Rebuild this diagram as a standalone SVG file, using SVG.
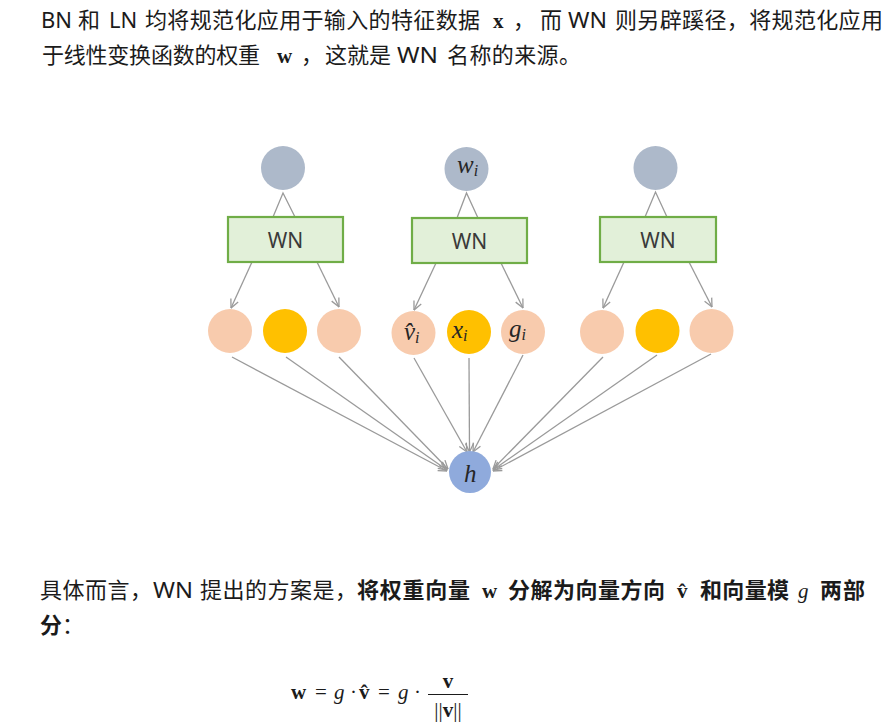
<svg xmlns="http://www.w3.org/2000/svg" width="886" height="726" viewBox="0 0 886 726">
<style>
.t{font-family:"Noto Sans","Noto Sans CJK SC",sans-serif;font-size:22px;fill:#1b1b1b}
.b{font-weight:bold}
.m{font-family:"Liberation Serif","DejaVu Serif",serif;font-size:21px;fill:#1b1b1b}
.mb{font-weight:bold}
.mi{font-style:italic}
.wn{font-family:"Noto Sans","Open Sans",sans-serif;font-size:21px;fill:#3a3a3a;text-anchor:middle}
.lbl{font-family:"Liberation Serif","DejaVu Serif",serif;font-style:italic;fill:#262626;font-size:25px}
.sub{font-size:16px}
.box{fill:#E2F0D9;stroke:#70AD47;stroke-width:2.2}
.top{fill:#ADB9CA}
.pe{fill:#F8CBAD}
.ye{fill:#FFC000}
.hh{fill:#8FAADC}
.c line,.c polyline{stroke:#9a9a9a;stroke-width:1.3;fill:none}
.c line{marker-end:url(#ah)}
</style>
<defs>
<marker id="ah" viewBox="0 0 10 10" refX="9.5" refY="5" markerWidth="10" markerHeight="10" markerUnits="userSpaceOnUse" orient="auto">
<path d="M1,1 L9.5,5 L1,9" fill="none" stroke="#9a9a9a" stroke-width="1.3"/>
</marker>
</defs>
<rect width="886" height="726" fill="#ffffff"/>

<g id="text-top">
<text class="t" y="28"><tspan x="41">BN</tspan><tspan x="78">和</tspan><tspan x="109">LN</tspan></text>
<text class="t" x="145" y="28" textLength="335" lengthAdjust="spacing">均将规范化应用于输入的特征数据</text>
<text class="m mb" x="493" y="28">x</text>
<text class="t" x="513" y="28">，</text>
<text class="t" x="540" y="28">而</text>
<text class="t" x="568" y="28" textLength="39" lengthAdjust="spacingAndGlyphs">WN</text>
<text class="t" x="615" y="28" textLength="268" lengthAdjust="spacing">则另辟蹊径，将规范化应用</text>
<text class="t" x="42" y="63" textLength="218" lengthAdjust="spacing">于线性变换函数的权重</text>
<text class="m mb" x="277" y="63">w</text>
<text class="t" x="301" y="63">，</text>
<text class="t" x="325" y="63" textLength="66" lengthAdjust="spacing">这就是</text>
<text class="t" x="397" y="63" textLength="41" lengthAdjust="spacingAndGlyphs">WN</text>
<text class="t" x="447" y="63" textLength="134" lengthAdjust="spacing">名称的来源。</text>
</g>

<g id="connectors" class="c">
<polyline points="273,217 283,193 295,217"/>
<polyline points="457,218 466.5,193 478,218"/>
<polyline points="645,217 655.5,192 667,217"/>
<line x1="252" y1="262" x2="231" y2="308"/>
<line x1="317" y1="262" x2="339" y2="307"/>
<line x1="436" y1="263" x2="414" y2="310"/>
<line x1="501" y1="263" x2="523" y2="308"/>
<line x1="624" y1="262" x2="603" y2="308"/>
<line x1="689" y1="262" x2="712" y2="307"/>
<line x1="232" y1="357" x2="447" y2="471"/>
<line x1="286" y1="357" x2="447" y2="470"/>
<line x1="339" y1="357" x2="448" y2="469"/>
<line x1="414" y1="358" x2="467" y2="452"/>
<line x1="469" y1="358" x2="469.5" y2="452"/>
<line x1="523" y1="355" x2="473" y2="452"/>
<line x1="603" y1="357" x2="493" y2="469"/>
<line x1="657" y1="355" x2="493" y2="470"/>
<line x1="711" y1="354" x2="493" y2="471"/>
</g>

<g id="top1"><circle class="top" cx="283" cy="168" r="22"/></g>
<g id="top2"><circle class="top" cx="466.5" cy="169" r="22"/>
<text class="lbl" x="457" y="173">w<tspan class="sub" dy="3">i</tspan></text></g>
<g id="top3"><circle class="top" cx="655.5" cy="168" r="22"/></g>

<g id="wn1"><rect class="box" x="228" y="217" width="115" height="45"/><text class="wn" x="285.5" y="248">WN</text></g>
<g id="wn2"><rect class="box" x="412" y="218" width="115" height="45"/><text class="wn" x="469.5" y="249">WN</text></g>
<g id="wn3"><rect class="box" x="600" y="217" width="116" height="45"/><text class="wn" x="658" y="248">WN</text></g>

<g id="n1"><circle class="pe" cx="230" cy="331" r="22"/></g>
<g id="n2"><circle class="ye" cx="285" cy="331" r="22"/></g>
<g id="n3"><circle class="pe" cx="339" cy="331" r="22"/></g>
<g id="n4"><circle class="pe" cx="413.5" cy="333" r="22"/>
<text class="lbl" x="404" y="340">v̂<tspan class="sub" dy="3">i</tspan></text></g>
<g id="n5"><circle class="ye" cx="469" cy="332" r="22"/>
<text class="lbl" x="452" y="338">x<tspan class="sub" dy="3">i</tspan></text></g>
<g id="n6"><circle class="pe" cx="523" cy="332" r="22"/>
<text class="lbl" x="509" y="337">g<tspan class="sub" dy="3">i</tspan></text></g>
<g id="n7"><circle class="pe" cx="602" cy="332" r="22"/></g>
<g id="n8"><circle class="ye" cx="657.5" cy="331" r="22"/></g>
<g id="n9"><circle class="pe" cx="711.5" cy="331" r="22"/></g>

<g id="h"><circle class="hh" cx="470" cy="472" r="21"/>
<text class="lbl" x="464" y="482">h</text></g>

<g id="text-bottom">
<text class="t" x="40" y="598" textLength="112" lengthAdjust="spacing">具体而言，</text>
<text class="t" x="153" y="598" textLength="40" lengthAdjust="spacingAndGlyphs">WN</text>
<text class="t" x="200" y="598" textLength="157" lengthAdjust="spacing">提出的方案是，</text>
<text class="t b" x="357" y="598" textLength="113" lengthAdjust="spacing">将权重向量</text>
<text class="m mb" x="482" y="598">w</text>
<text class="t b" x="508" y="598" textLength="157" lengthAdjust="spacing">分解为向量方向</text>
<text class="m mb" x="677" y="598">v̂</text>
<text class="t b" x="700" y="598" textLength="89" lengthAdjust="spacing">和向量模</text>
<text class="m mi" x="798" y="598">g</text>
<text class="t b" x="820" y="598" textLength="45" lengthAdjust="spacing">两部</text>
<text class="t b" x="40" y="633">分</text><text class="t" x="62" y="633">：</text>
</g>

<g id="formula">
<text class="m mb" x="291" y="699" font-size="20">w</text>
<text class="m" x="315" y="699" font-size="20">=</text>
<text class="m mi" x="334" y="699" font-size="20">g</text>
<text class="m" x="350" y="699" font-size="20">·</text>
<text class="m mb" x="359" y="699" font-size="20">v̂</text>
<text class="m" x="378" y="699" font-size="20">=</text>
<text class="m mi" x="398" y="699" font-size="20">g</text>
<text class="m" x="414" y="699" font-size="20">·</text>
<text class="m mb" x="448" y="688" font-size="20" text-anchor="middle">v</text>
<line x1="428" y1="694.5" x2="468" y2="694.5" stroke="#1b1b1b" stroke-width="1"/>
<text class="m" x="448" y="717" font-size="20" text-anchor="middle">||<tspan class="mb">v</tspan>||</text>
</g>
</svg>
